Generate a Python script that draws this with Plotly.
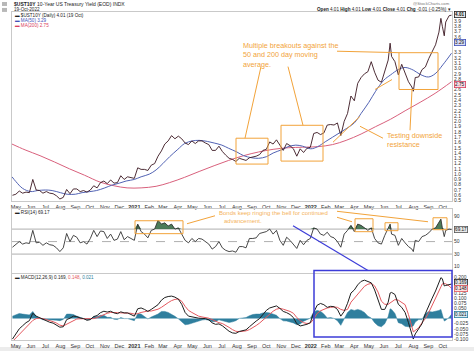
import plotly.graph_objects as go

# ---------------- data ----------------
dates = [
    "2020-04-24","2020-05-01","2020-05-08","2020-05-15","2020-05-22","2020-05-29","2020-06-05","2020-06-12","2020-06-19","2020-06-26",
    "2020-07-03","2020-07-10","2020-07-17","2020-07-24","2020-07-31","2020-08-07","2020-08-14","2020-08-21","2020-08-28","2020-09-04",
    "2020-09-11","2020-09-18","2020-09-25","2020-10-02","2020-10-09","2020-10-16","2020-10-23","2020-10-30","2020-11-06","2020-11-13",
    "2020-11-20","2020-11-27","2020-12-04","2020-12-11","2020-12-18","2020-12-25",
    "2021-01-01","2021-01-08","2021-01-15","2021-01-22","2021-01-29","2021-02-05","2021-02-12","2021-02-19","2021-02-26","2021-03-05",
    "2021-03-12","2021-03-19","2021-03-26","2021-04-02","2021-04-09","2021-04-16","2021-04-23","2021-04-30","2021-05-07","2021-05-14",
    "2021-05-21","2021-05-28","2021-06-04","2021-06-11","2021-06-18","2021-06-25","2021-07-02","2021-07-09","2021-07-16","2021-07-23",
    "2021-07-30","2021-08-06","2021-08-13","2021-08-20","2021-08-27","2021-09-03","2021-09-10","2021-09-17","2021-09-24","2021-10-01",
    "2021-10-08","2021-10-15","2021-10-22","2021-10-29","2021-11-05","2021-11-12","2021-11-19","2021-11-26","2021-12-03","2021-12-10",
    "2021-12-17","2021-12-24","2021-12-31",
    "2022-01-07","2022-01-14","2022-01-21","2022-01-28","2022-02-04","2022-02-11","2022-02-18","2022-02-25","2022-03-04","2022-03-11",
    "2022-03-18","2022-03-25","2022-04-01","2022-04-08","2022-04-15","2022-04-22","2022-04-29","2022-05-06","2022-05-13","2022-05-20",
    "2022-05-27","2022-06-03","2022-06-10","2022-06-14","2022-06-17","2022-06-24","2022-07-01","2022-07-08","2022-07-15","2022-07-22",
    "2022-07-29","2022-08-01","2022-08-05","2022-08-12","2022-08-19","2022-08-26","2022-09-02","2022-09-09","2022-09-16","2022-09-23",
    "2022-09-27","2022-09-30","2022-10-04","2022-10-07","2022-10-14","2022-10-19",
]

price = [
    .60,.62,.68,.64,.66,.65,.90,.70,.69,.64,.67,.64,.63,.59,.53,.56,.71,.63,.72,.72,
    .67,.69,.66,.70,.78,.74,.84,.87,.82,.89,.83,.84,.97,.90,.95,.94,
    .92,1.12,1.09,1.09,1.07,1.17,1.20,1.34,1.44,1.57,1.63,1.73,1.67,1.72,1.67,1.59,1.56,1.63,
    1.58,1.63,1.63,1.59,1.56,1.45,1.45,1.53,1.43,1.36,1.30,1.28,1.24,1.30,1.28,1.26,1.31,
    1.32,1.34,1.37,1.45,1.47,1.61,1.57,1.65,1.55,1.45,1.58,1.54,1.48,1.34,1.48,1.41,1.49,1.51,
    1.77,1.79,1.75,1.78,1.93,1.94,1.93,1.97,1.73,2.00,2.15,2.48,2.39,2.72,2.83,2.90,2.94,
    3.13,2.93,2.78,2.74,2.94,3.16,3.48,3.23,3.13,2.88,3.08,2.93,2.75,2.65,
    2.57,2.83,2.84,2.98,3.03,3.19,3.31,3.45,3.69,3.95,3.80,3.62,3.88,4.00,4.01,
]

rsi = [
    41,45,50,46,48,47,68,48,49,44,48,45,44,40,34,40,63,50,60,57,
    48,50,46,55,68,58,67,66,55,62,52,54,66,53,58,55,
    52,78,66,62,56,68,70,84,78,80,75,78,70,72,62,52,48,55,
    50,55,54,50,46,38,42,50,40,36,34,35,33,42,42,40,55,
    55,56,63,65,66,70,62,68,52,44,57,52,46,39,52,45,52,55,
    72,70,62,60,65,58,56,50,41,62,68,76,66,78,76,72,68,
    72,55,48,46,60,70,78,62,60,44,55,48,42,38,
    34,52,50,58,60,64,70,72,80,86,72,58,68,70,69.17,
]

macd = [
    -.100,-.075,-.050,-.035,-.020,-.010,.026,.012,.004,-.006,-.010,-.018,-.022,-.030,-.042,-.040,-.005,.002,.012,.010,
    .003,.000,-.008,-.005,.010,.015,.029,.036,.032,.036,.028,.024,.033,.028,.028,.020,
    .012,.048,.052,.045,.035,.045,.055,.068,.090,.103,.108,.110,.105,.095,.070,.030,.012,.008,
    .004,.002,.001,.000,-.006,-.021,-.028,-.026,-.035,-.048,-.062,-.070,-.072,-.063,-.058,-.055,-.040,
    -.025,-.012,.000,.020,.040,.052,.057,.062,.050,.035,.029,.020,.005,-.025,-.036,-.033,-.028,-.020,
    .030,.065,.074,.068,.055,.060,.058,.045,.012,.035,.075,.125,.140,.165,.182,.188,.180,
    .175,.140,.095,.045,.045,.080,.125,.128,.118,.070,.055,.030,-.020,-.085,
    -.100,-.075,-.050,-.025,.025,.065,.100,.135,.175,.200,.195,.160,.162,.165,.169,
]

signal = [
    -.112,-.095,-.075,-.057,-.040,-.028,-.009,.000,.002,.000,-.004,-.010,-.015,-.022,-.032,-.036,-.027,-.020,-.008,-.002,
    -.001,.000,-.002,-.001,.000,.005,.013,.020,.026,.030,.031,.029,.028,.028,.028,.026,
    .022,.024,.030,.035,.037,.037,.041,.046,.055,.068,.078,.088,.094,.096,.085,.060,.040,.030,
    .020,.012,.008,.005,.002,-.005,-.014,-.020,-.024,-.032,-.043,-.054,-.062,-.064,-.062,-.060,-.054,
    -.045,-.034,-.022,-.008,.010,.024,.036,.046,.050,.046,.041,.035,.026,.005,-.010,-.020,-.024,-.022,
    -.002,.025,.038,.046,.052,.055,.057,.055,.045,.040,.045,.080,.100,.120,.142,.158,.168,
    .172,.160,.130,.085,.070,.070,.077,.083,.093,.090,.080,.068,.020,-.045,
    -.065,-.058,-.045,-.020,.000,.030,.068,.100,.135,.155,.170,.172,.170,.160,.148,
]

hist = [
    .012,.020,.025,.022,.020,.018,.035,.012,.002,-.006,-.006,-.008,-.007,-.008,-.010,-.004,.022,.022,.020,.012,
    .004,.000,-.006,-.004,.010,.010,.016,.016,.006,.006,-.003,-.005,.005,.000,.000,-.006,
    -.010,.024,.022,.010,-.002,.008,.014,.022,.035,.035,.030,.022,.011,-.001,-.015,-.030,-.028,-.022,
    -.016,-.010,-.007,-.005,-.008,-.016,-.014,-.006,-.011,-.016,-.019,-.016,-.010,.001,.004,.005,.014,
    .020,.022,.022,.028,.030,.028,.021,.016,.000,-.011,-.012,-.015,-.021,-.030,-.026,-.013,-.004,.002,
    .032,.040,.036,.022,.003,.005,.001,-.010,-.033,-.005,.030,.045,.040,.045,.040,.030,.012,
    .003,-.020,-.035,-.040,-.025,.010,.048,.045,.025,-.020,-.025,-.038,-.040,-.040,
    -.035,-.017,-.005,-.005,.025,.035,.032,.035,.040,.045,.025,-.012,-.008,.005,.021,
]

ma50_dates = [
    "2020-04-23","2020-05-01","2020-05-15","2020-06-01","2020-06-15","2020-07-01","2020-07-15","2020-08-01","2020-08-15","2020-09-01",
    "2020-09-15","2020-10-01","2020-10-15","2020-11-01","2020-11-15","2020-12-01","2020-12-15","2021-01-01","2021-01-15","2021-02-01",
    "2021-02-15","2021-03-01","2021-03-15","2021-04-01","2021-04-15","2021-05-01","2021-05-15","2021-06-01","2021-06-15","2021-07-01",
    "2021-07-15","2021-08-01","2021-08-15","2021-09-01","2021-09-15","2021-10-01","2021-10-15","2021-11-01","2021-11-15","2021-12-01",
    "2021-12-15","2022-01-01","2022-01-15","2022-02-01","2022-02-15","2022-03-01","2022-03-15","2022-04-01","2022-04-15","2022-05-01",
    "2022-05-15","2022-06-01","2022-06-15","2022-07-01","2022-07-15","2022-08-01","2022-08-15","2022-09-01","2022-09-15","2022-10-01",
    "2022-10-19",
]
ma50 = [
    .95,.86,.73,.67,.69,.70,.69,.65,.62,.62,
    .65,.67,.69,.74,.79,.83,.87,.90,.95,1.00,
    1.08,1.20,1.33,1.47,1.58,1.63,1.64,1.62,1.59,1.55,
    1.49,1.42,1.35,1.31,1.30,1.33,1.40,1.46,1.52,1.55,
    1.53,1.48,1.52,1.62,1.70,1.78,1.86,1.97,2.15,2.36,
    2.57,2.78,2.88,2.98,3.02,2.97,2.89,2.84,2.90,3.07,
    3.29,
]

ma200_dates = [
    "2020-04-23","2020-05-20","2020-06-20","2020-07-20","2020-08-20","2020-09-20","2020-10-22","2020-11-20","2020-12-17","2021-01-15",
    "2021-02-15","2021-03-15","2021-04-15","2021-05-15","2021-06-15","2021-07-15","2021-08-15","2021-09-15","2021-10-15","2021-11-15",
    "2021-12-15","2022-01-15","2022-02-15","2022-03-15","2022-04-15","2022-05-15","2022-06-15","2022-07-15","2022-08-15","2022-09-15",
    "2022-10-19",
]
ma200 = [
    1.57,1.46,1.35,1.23,1.10,0.98,0.85,0.78,0.74,0.74,
    0.77,0.84,0.94,1.05,1.16,1.26,1.35,1.42,1.47,1.50,
    1.51,1.52,1.56,1.64,1.76,1.90,2.04,2.20,2.36,2.53,
    2.75,
]

month_ticks = [
    "2020-05-01","2020-06-01","2020-07-01","2020-08-01","2020-09-01","2020-10-01","2020-11-01","2020-12-01",
    "2021-01-01","2021-02-01","2021-03-01","2021-04-01","2021-05-01","2021-06-01","2021-07-01","2021-08-01",
    "2021-09-01","2021-10-01","2021-11-01","2021-12-01","2022-01-01","2022-02-01","2022-03-01","2022-04-01",
    "2022-05-01","2022-06-01","2022-07-01","2022-08-01","2022-09-01","2022-10-01",
]
month_labels = [
    "May","Jun","Jul","Aug","Sep","Oct","Nov","Dec",
    "<b>2021</b>","Feb","Mar","Apr","May","Jun","Jul","Aug",
    "Sep","Oct","Nov","Dec","<b>2022</b>","Feb","Mar","Apr",
    "May","Jun","Jul","Aug","Sep","Oct",
]
# right-axis tick labels (those hidden behind the value boxes are left out)
price_ticks = [0.5,0.6,0.7,0.8,0.9,1.0,1.1,1.2,1.3,1.4,1.5,1.6,1.7,1.8,1.9,2.0,2.1,2.2,2.3,2.4,
               2.5,2.6,2.8,2.9,3.0,3.1,3.2,3.3,3.6,3.7,3.8,3.9]
rsi_ticks = [90,50,30,10]
macd_ticks = [0.2,0.125,0.1,0.075,0.05,-0.025,-0.05,-0.075,-0.1]

assert len(dates) == len(price) == len(rsi) == len(macd) == len(signal) == len(hist)
assert len(ma50_dates) == len(ma50) and len(ma200_dates) == len(ma200)

# ---------------- figure ----------------
W, H = 474, 353
L, R = 12, 452
def px(x):
    return (x - L) / (R - L)
def py(y):
    return 1 - y / H

FONT = "Liberation Sans, Arial, sans-serif"
ORANGE = "#f2a33a"
BLUE = "#3c3cd8"
GRID = "#c9c9c9"

fig = go.Figure()
fig.add_trace(go.Scatter(x=ma200_dates, y=ma200, mode="lines",
                         line=dict(color="#d8607c", width=1, shape="spline"), xaxis="x", yaxis="y"))
fig.add_trace(go.Scatter(x=ma50_dates, y=ma50, mode="lines",
                         line=dict(color="#5162b3", width=1, shape="spline"), xaxis="x", yaxis="y"))
fig.add_trace(go.Scatter(x=dates, y=price, mode="lines",
                         line=dict(color="#3a1620", width=0.9), xaxis="x", yaxis="y"))

rsi_base = [70 for _ in rsi]
rsi_top = [max(v, 70) for v in rsi]
fig.add_trace(go.Scatter(x=dates, y=rsi_base, mode="lines", line=dict(width=0),
                         xaxis="x2", yaxis="y2", hoverinfo="skip"))
fig.add_trace(go.Scatter(x=dates, y=rsi_top, mode="lines", line=dict(width=0), fill="tonexty",
                         fillcolor="rgba(45,100,60,0.85)", xaxis="x2", yaxis="y2"))
fig.add_trace(go.Scatter(x=dates, y=rsi, mode="lines",
                         line=dict(color="#333333", width=0.9), xaxis="x2", yaxis="y2"))

fig.add_trace(go.Scatter(x=dates, y=hist, mode="lines", fill="tozeroy", fillcolor="#2f7f9e",
                         line=dict(color="#2f7f9e", width=0.5), xaxis="x3", yaxis="y3"))
fig.add_trace(go.Scatter(x=dates, y=signal, mode="lines",
                         line=dict(color="#e4585e", width=1), xaxis="x3", yaxis="y3"))
fig.add_trace(go.Scatter(x=dates, y=macd, mode="lines",
                         line=dict(color="#1e1e1e", width=1), xaxis="x3", yaxis="y3"))

xr = ["2020-04-23", "2022-10-20"]
xcommon = dict(type="date", range=xr, showgrid=False, zeroline=False, showline=True,
               linecolor=GRID, linewidth=1, mirror=True, ticks="", tickvals=month_ticks,
               ticktext=month_labels, tickfont=dict(size=5.5, color="#333", family=FONT))
ycommon = dict(side="right", showgrid=False, zeroline=False, showline=True, linecolor=GRID,
               linewidth=1, mirror=True, ticks="", tickfont=dict(size=5, color="#333", family=FONT))

fig.update_layout(
    width=W, height=H, margin=dict(l=L, r=W - R, t=0, b=0),
    paper_bgcolor="white", plot_bgcolor="white", showlegend=False,
    font=dict(family=FONT),
    xaxis=dict(domain=[0, 1], anchor="y", **xcommon),
    xaxis2=dict(domain=[0, 1], anchor="y2", matches="x", showticklabels=False,
                **{k: v for k, v in xcommon.items() if k not in ("tickvals", "ticktext", "tickfont")}),
    xaxis3=dict(domain=[0, 1], anchor="y3", matches="x", **xcommon),
    yaxis=dict(domain=[py(202.5), py(12)], range=[0.485, 4.072], tickvals=price_ticks,
               ticktext=[f"{v:.1f}" for v in price_ticks], **ycommon),
    yaxis2=dict(domain=[py(275), py(210)], range=[-1, 102.5], tickvals=rsi_ticks,
                ticktext=[str(v) for v in rsi_ticks], **ycommon),
    yaxis3=dict(domain=[py(342), py(276)], range=[-0.105, 0.216], tickvals=macd_ticks,
                ticktext=[f"{v:.3f}" for v in macd_ticks], **ycommon),
)

shapes = []
# RSI reference lines
for lvl, dash in ((70, "solid"), (50, "dash"), (30, "solid")):
    shapes.append(dict(type="line", xref="x2 domain", yref="y2", x0=0, x1=1, y0=lvl, y1=lvl,
                       line=dict(color="#9a9a9a", width=0.8, dash=dash), layer="below"))

def rect(x0, y0, x1, y1, color=ORANGE, width=1):
    shapes.append(dict(type="rect", xref="paper", yref="paper", x0=px(x0), x1=px(x1),
                       y0=py(y1), y1=py(y0), line=dict(color=color, width=width)))

def seg(x0, y0, x1, y1, color=ORANGE, width=1):
    shapes.append(dict(type="line", xref="paper", yref="paper", x0=px(x0), x1=px(x1),
                       y0=py(y0), y1=py(y1), line=dict(color=color, width=width)))

# price panel annotations
rect(236, 139, 268, 165)
rect(281, 126, 323, 162)
rect(399, 53, 438, 90)
seg(337, 51.5, 399, 53)
seg(261, 67, 245, 139)
seg(288, 67, 303, 126)
seg(333, 143, 360, 117)
seg(375, 90, 392, 80)
seg(360, 127, 383, 139)
seg(410, 131, 412, 90)
# RSI annotations
rect(135, 222, 183, 235)
rect(355, 220, 373, 233)
rect(385, 224, 398, 232)
rect(433, 219, 447, 231)
seg(187, 225, 215, 217)
seg(337, 212.5, 428, 223)
seg(337, 218.5, 352, 223)
# MACD annotations
rect(314, 272, 452, 339, color=BLUE, width=1.5)
seg(293, 227, 368, 272, color=BLUE, width=1.2)
# bottom strip and small toolbar icons
shapes.append(dict(type="rect", xref="paper", yref="paper", x0=-1, x1=2, y0=0, y1=py(349),
                   fillcolor="#ececec", line=dict(width=0), layer="below"))
for (a, b) in ((2, 2), (2, 8)):
    shapes.append(dict(type="rect", xref="paper", yref="paper", x0=px(a), x1=px(a + 5),
                       y0=py(b + 4), y1=py(b), fillcolor="#b8b8b8", line=dict(width=0)))
fig.update_layout(shapes=shapes)

ann = []
def text(x, y, s, size=5, color="#222", xanchor="left", yanchor="middle", **kw):
    ann.append(dict(x=px(x), y=py(y), xref="paper", yref="paper", text=s, showarrow=False,
                    xanchor=xanchor, yanchor=yanchor, font=dict(size=size, color=color, family=FONT),
                    align="left", **kw))

text(12, 4, "<b>$UST10Y</b> 10-Year US Treasury Yield (EOD) INDX", size=5)
text(12, 9.5, "19-Oct-2022", size=4.6)
text(13, 15.5, "▬ $UST10Y (Daily) 4.01 (19 Oct)", size=4.6)
text(13, 20.5, "▬ MA(50) 3.29", size=4.6, color="#4050b8")
text(13, 25.5, "▬ MA(200) 2.75", size=4.6, color="#d84060")
text(452, 3.5, "@StockCharts.com", size=4.2, color="#777", xanchor="right")
text(453, 10, "<b>Open</b> 4.01 <b>High</b> 4.01 <b>Low</b> 4.01 <b>Close</b> 4.01 <b>Chg</b> -0.01 (-0.25%) ▾",
     size=4.6, xanchor="right")
text(13, 214, "▬ RSI(14) 69.17", size=4.6)
text(13, 279, "▬ MACD(12,26,9) 0.169, <span style='color:#e4585e'>0.148</span>, "
              "<span style='color:#2f7f9e'>0.021</span>", size=4.6)

text(241, 55, "Multiple breakouts against the<br>50 and 200 day moving<br>average.", size=7.2,
     color=ORANGE)
text(385, 140.5, "Testing downside<br>resistance", size=7.2, color=ORANGE)
text(217, 218.5, "Bonds keep ringing the bell for continued<br>   advancement.", size=6,
     color="#f4b35c")

# value boxes on right axes
def vbox(y, s, border, bg, color="#111"):
    ann.append(dict(x=1, y=py(y), xref="paper", yref="paper", text=s, showarrow=False,
                    xanchor="left", yanchor="middle", xshift=2,
                    font=dict(size=4.6, color=color, family=FONT),
                    bordercolor=border, borderwidth=0.8, bgcolor=bg, borderpad=0.3))

vbox(15.0, "<b>4.01</b>", "#222", "#e8e8e8")
vbox(42.5, "3.29", "#4050b8", "#d8dcf4")
vbox(85.0, "2.75", "#d84060", "#f8d8e0")
vbox(230.5, "69.17", "#555", "#e8e8e8")
vbox(284.0, "0.169", "#222", "#e8e8e8")
vbox(290.5, "0.148", "#e4585e", "#fbe0e0")
vbox(316.5, "0.021", "#2f7f9e", "#d8ecf4")

fig.update_layout(annotations=ann)
fig.write_html("out.html")
